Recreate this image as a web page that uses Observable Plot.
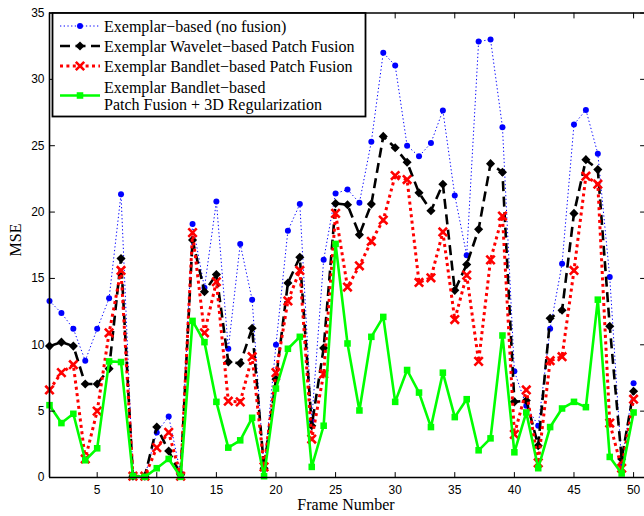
<!DOCTYPE html>
<html><head><meta charset="utf-8">
<script src="https://cdn.jsdelivr.net/npm/d3@7"></script>
<script src="https://cdn.jsdelivr.net/npm/@observablehq/plot@0.6"></script>
<style>
html,body{margin:0;padding:0;background:#fff;}
#chart{width:644px;height:516px;}
</style></head><body><div id="chart"></div>
<script>
// ---- data ----
const frames = [1,2,3,4,5,6,7,8,9,10,11,12,13,14,15,16,17,18,19,20,21,22,23,24,25,26,27,28,29,30,31,32,33,34,35,36,37,38,39,40,41,42,43,44,45,46,47,48,49,50];
const noFusion = [13.3,12.4,11.2,8.8,11.2,13.5,21.35,0.2,0.1,3.4,4.6,0.3,19.1,14.3,20.8,9.7,17.6,13.4,0.6,10.0,18.6,20.6,4.3,16.4,21.4,21.7,20.7,25.3,32.0,31.05,25.0,24.2,25.2,27.65,21.25,16.75,32.85,33.0,26.4,8.0,5.4,3.9,11.2,16.1,26.6,27.7,24.4,15.1,1.0,7.1];
const waveletFusion = [9.9,10.2,9.9,7.05,7.05,8.2,16.5,0.1,0.1,3.8,2.0,0.2,17.9,14.0,15.3,8.7,8.6,11.25,0.7,7.4,14.65,16.6,3.9,9.75,20.65,20.55,18.3,20.6,25.7,24.85,23.75,21.45,20.1,22.1,14.1,16.05,18.7,23.65,23.0,5.7,5.8,2.4,12.0,12.6,19.9,23.95,23.2,11.4,1.4,6.5];
const bandletFusion = [6.6,7.9,8.5,1.4,5.0,10.9,15.6,0.1,0.1,2.25,3.4,0.1,18.45,10.9,14.75,5.75,5.7,9.1,0.8,7.9,13.3,15.6,2.9,7.8,19.9,14.35,15.95,17.8,19.4,22.75,22.45,14.7,15.05,18.5,11.9,15.25,8.75,16.4,19.7,3.25,6.6,1.1,8.8,9.1,15.6,22.7,22.1,4.1,0.7,5.9];
const bandletRegularized = [5.45,4.1,4.8,1.3,2.2,8.75,8.7,0.1,0.05,0.7,1.4,0.05,11.8,10.2,5.7,2.25,2.8,4.5,0.1,6.7,9.7,10.6,0.8,3.9,17.6,10.1,5.05,10.6,12.1,5.7,8.1,6.4,3.8,7.9,4.55,5.9,2.05,2.95,10.7,1.9,4.9,0.7,3.8,5.2,5.7,5.3,13.4,1.55,0.3,4.9];
const seriesNames = [
  ["Exemplar\u2212based (no fusion)"],
  ["Exemplar Wavelet\u2212based Patch Fusion"],
  ["Exemplar Bandlet\u2212based Patch Fusion"],
  ["Exemplar Bandlet\u2212based", "Patch Fusion + 3D Regularization"]
];
const xTicks = [5,10,15,20,25,30,35,40,45,50];
const yTicks = [0,5,10,15,20,25,30,35];
const xLabel = "Frame Number";
const yLabel = "MSE";

// ---- styles ----
const styles = [
  {stroke:"#0000ff", width:1, dash:"1.3,2.4", symbol:"circle", r:3, fill:"#0000ff", mstroke:"none", mwidth:0},
  {stroke:"#000000", width:2.6, dash:"10,5.5", symbol:"diamond2", r:4.1, fill:"#000000", mstroke:"none", mwidth:0},
  {stroke:"#ff0000", width:3, dash:"3,3.4", symbol:"times", r:3.9, fill:"none", mstroke:"#ff0000", mwidth:2.6},
  {stroke:"#00ff00", width:2.6, dash:null, symbol:"square", r:3.7, fill:"#00ff00", mstroke:"none", mwidth:0}
];
const seriesValues = [noFusion, waveletFusion, bandletFusion, bandletRegularized];
const tables = seriesValues.map(vals => frames.map((f, i) => ({frame: f, mse: vals[i]})));

const tickShape = {draw(ctx, l) { ctx.moveTo(0, 0); ctx.lineTo(0, -l); }};
const tickOpts = {length: 5, anchor: "start", shape: tickShape, stroke: "black", strokeWidth: 1};

const marks = [];
tables.forEach((t, k) => {
  const s = styles[k];
  marks.push(Plot.line(t, {x: "frame", y: "mse", stroke: s.stroke, strokeWidth: s.width,
    strokeDasharray: s.dash, strokeLinecap: "butt", strokeLinejoin: "miter"}));
  marks.push(Plot.dot(t, {x: "frame", y: "mse", symbol: () => s.symbol, r: s.r,
    fill: s.fill, stroke: s.mstroke, strokeWidth: s.mwidth}));
});

const chart = Plot.plot({
  width: 644, height: 516,
  marginLeft: 49, marginRight: 0, marginTop: 12.5, marginBottom: 39,
  style: {fontFamily: "'Liberation Sans', Arial, sans-serif", fontSize: "12px", background: "white", color: "black", overflow: "visible"},
  x: {domain: [1, 51], range: [49, 645]},
  y: {domain: [0, 35]},
  symbol: {type: "identity"},
  marks: [
    ...marks,
    Plot.ruleY([0, 35], {stroke: "black", strokeWidth: 1.6}),
    Plot.ruleX([1, 51], {stroke: "black", strokeWidth: 1.6}),
    Plot.vector(xTicks, {x: d => d, y: 0, rotate: 0, ...tickOpts}),
    Plot.vector(xTicks, {x: d => d, y: 35, rotate: 180, ...tickOpts}),
    Plot.vector(yTicks, {x: 1, y: d => d, rotate: 90, ...tickOpts}),
    Plot.vector(yTicks, {x: 51, y: d => d, rotate: -90, ...tickOpts}),
    Plot.axisX({ticks: xTicks, tickSize: 0, tickPadding: 8, label: null}),
    Plot.axisY({ticks: yTicks, tickSize: 0, tickPadding: 5, label: null})
  ]
});
document.getElementById("chart").appendChild(chart);

// ---- axis titles and legend (drawn into the same SVG) ----
const svg = d3.select(chart);
const serif = "'Liberation Serif', 'Times New Roman', serif";
svg.append("text").text(xLabel)
  .attr("x", 346).attr("y", 510).attr("text-anchor", "middle")
  .attr("font-family", serif).attr("font-size", 16).attr("fill", "black");
svg.append("text").text(yLabel)
  .attr("transform", "translate(21,240) rotate(-90)").attr("text-anchor", "middle")
  .attr("font-family", serif).attr("font-size", 16).attr("fill", "black");

const lg = svg.append("g");
lg.append("rect").attr("x", 52.5).attr("y", 13).attr("width", 313).attr("height", 103.5)
  .attr("fill", "white").attr("stroke", "black").attr("stroke-width", 1.8);
const rowY = [26, 46, 66, 95.5];
const symPath = {
  circle: r => d3.symbol(d3.symbolCircle, Math.PI * r * r)(),
  diamond2: r => d3.symbol(d3.symbolDiamond2, Math.PI * r * r)(),
  times: r => d3.symbol(d3.symbolTimes, Math.PI * r * r)(),
  square: r => d3.symbol(d3.symbolSquare, Math.PI * r * r)()
};
seriesNames.forEach((lines, k) => {
  const s = styles[k], y = rowY[k];
  lg.append("line").attr("x1", 60).attr("x2", 100).attr("y1", y).attr("y2", y)
    .attr("stroke", s.stroke).attr("stroke-width", s.width)
    .attr("stroke-dasharray", s.dash);
  lg.append("path").attr("d", symPath[s.symbol](s.r)).attr("transform", `translate(80,${y})`)
    .attr("fill", s.fill).attr("stroke", s.mstroke).attr("stroke-width", s.mwidth);
  const t = lg.append("text").attr("font-family", serif).attr("font-size", 16)
    .attr("fill", "black").attr("text-anchor", "start");
  const y0 = lines.length === 1 ? y : y - 8.5;
  lines.forEach((ln, j) => {
    t.append("tspan").attr("x", 104).attr("y", y0 + j * 17.5).attr("dy", "0.35em").text(ln);
  });
});
</script></body></html>
